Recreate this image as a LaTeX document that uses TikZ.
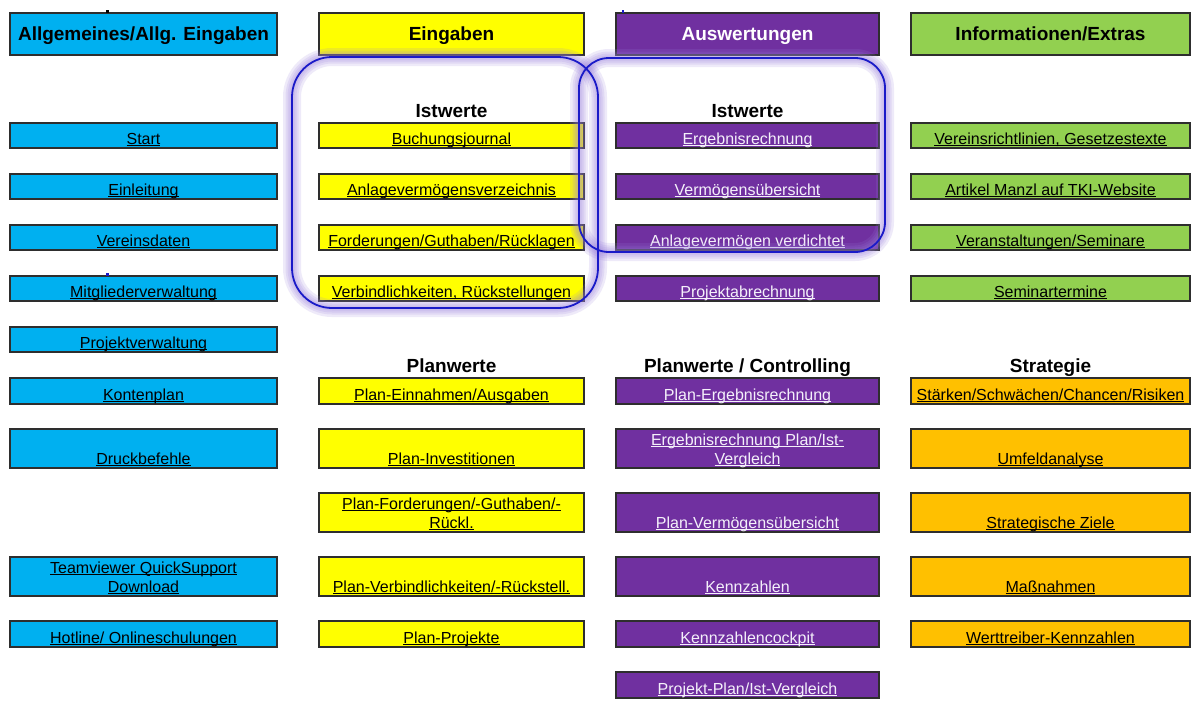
\documentclass[tikz,border=0pt]{standalone}
\usepackage{fontspec}
\setmainfont{Liberation Sans}
\definecolor{cblue}{HTML}{00B0F0}
\definecolor{cyel}{HTML}{FFFF00}
\definecolor{cpur}{HTML}{7030A0}
\definecolor{cgrn}{HTML}{92D050}
\definecolor{corg}{HTML}{FFC000}
\definecolor{ringblue}{HTML}{1A1AC8}
\definecolor{glow}{HTML}{9A80DC}
\definecolor{lavwhite}{HTML}{F4F0FA}
\newcommand{\ulk}[1]{\setbox0\hbox{#1}\rlap{\rule[-2.4pt]{\wd0}{1.1pt}}\box0}
\tikzset{
  cellbox/.style={draw=black!82, line width=1.3pt, inner sep=0pt, outer sep=0pt, anchor=north west},
  txt/.style={anchor=base, inner sep=0pt, outer sep=0pt, font=\fontsize{16}{19}\selectfont},
  hd/.style={anchor=base, inner sep=0pt, outer sep=0pt, font=\bfseries\fontsize{19}{22}\selectfont},
  glowline/.style={line width=#1, draw=glow, opacity=0.16},
  ring/.style={line width=1.8pt, draw=ringblue},
}
% name, x1, y1, x2, y2, fill, textcolor, text
\newcommand\cell[8]{%
  \node[cellbox, fill=#6, minimum width=#4pt-#2pt, minimum height=#5pt-#3pt] (#1) at (#2,#3) {};
  \node[txt, text=#7] (#1t) at ([yshift=4pt]#1.south) {\ulk{#8}};}
% two-line cell
\newcommand\cellii[9]{%
  \node[cellbox, fill=#6, minimum width=#4pt-#2pt, minimum height=#5pt-#3pt] (#1) at (#2,#3) {};
  \node[txt, text=#7] (#1a) at ([yshift=23pt]#1.south) {\ulk{#8}};
  \node[txt, text=#7] (#1b) at ([yshift=4pt]#1.south) {\ulk{#9}};}
% header: name, x1, x2, fill, textcolor, text
\newcommand\hcell[6]{%
  \node[cellbox, fill=#4, minimum width=#3pt-#2pt, minimum height=42pt] (#1) at (#2,13) {};
  \node[hd, text=#5] (#1t) at ([yshift=-6pt]#1.center) {#6};}
\begin{document}
\begin{tikzpicture}[x=1pt,y=-1pt]
\useasboundingbox (0,0) rectangle (1196,704);
\fill[white] (0,0) rectangle (1196,704);

% headers
\hcell{h1}{10}{277}{cblue}{black}{Allgemeines/Allg. Eingaben}
\hcell{h2}{319}{584}{cyel}{black}{Eingaben}
\hcell{h3}{616}{879}{cpur}{white}{Auswertungen}
\hcell{h4}{911}{1190}{cgrn}{black}{Informationen/Extras}

% column 1
\cell{a1}{10}{123}{277}{148}{cblue}{black}{Start}
\cell{a2}{10}{174}{277}{199}{cblue}{black}{Einleitung}
\cell{a3}{10}{225}{277}{250}{cblue}{black}{Vereinsdaten}
\cell{a4}{10}{276}{277}{301}{cblue}{black}{Mitgliederverwaltung}
\cell{a5}{10}{327}{277}{352}{cblue}{black}{Projektverwaltung}
\cell{a6}{10}{378}{277}{404}{cblue}{black}{Kontenplan}
\cell{a7}{10}{429}{277}{468}{cblue}{black}{Druckbefehle}
\cellii{a9}{10}{557}{277}{596}{cblue}{black}{Teamviewer QuickSupport}{Download}
\cell{a10}{10}{621}{277}{647}{cblue}{black}{Hotline/ Onlineschulungen}

% column 2
\cell{b1}{319}{123}{584}{148}{cyel}{black}{Buchungsjournal}
\cell{b2}{319}{174}{584}{199}{cyel}{black}{Anlagevermögensverzeichnis}
\cell{b3}{319}{225}{584}{250}{cyel}{black}{Forderungen/Guthaben/Rücklagen}
\cell{b4}{319}{276}{584}{301}{cyel}{black}{Verbindlichkeiten, Rückstellungen}
\cell{b6}{319}{378}{584}{404}{cyel}{black}{Plan-Einnahmen/Ausgaben}
\cell{b7}{319}{429}{584}{468}{cyel}{black}{Plan-Investitionen}
\cellii{b8}{319}{493}{584}{532}{cyel}{black}{Plan-Forderungen/-Guthaben/-}{Rückl.}
\cell{b9}{319}{557}{584}{596}{cyel}{black}{Plan-Verbindlichkeiten/-Rückstell.}
\cell{b10}{319}{621}{584}{647}{cyel}{black}{Plan-Projekte}

% column 3
\cell{c1}{616}{123}{879}{148}{cpur}{lavwhite}{Ergebnisrechnung}
\cell{c2}{616}{174}{879}{199}{cpur}{lavwhite}{Vermögensübersicht}
\cell{c3}{616}{225}{879}{250}{cpur}{lavwhite}{Anlagevermögen verdichtet}
\cell{c4}{616}{276}{879}{301}{cpur}{lavwhite}{Projektabrechnung}
\cell{c6}{616}{378}{879}{404}{cpur}{lavwhite}{Plan-Ergebnisrechnung}
\cellii{c7}{616}{429}{879}{468}{cpur}{lavwhite}{Ergebnisrechnung Plan/Ist-}{Vergleich}
\cell{c8}{616}{493}{879}{532}{cpur}{lavwhite}{Plan-Vermögensübersicht}
\cell{c9}{616}{557}{879}{596}{cpur}{lavwhite}{Kennzahlen}
\cell{c10}{616}{621}{879}{647}{cpur}{lavwhite}{Kennzahlencockpit}
\cell{c11}{616}{672}{879}{698}{cpur}{lavwhite}{Projekt-Plan/Ist-Vergleich}

% column 4
\cell{d1}{911}{123}{1190}{148}{cgrn}{black}{Vereinsrichtlinien, Gesetzestexte}
\cell{d2}{911}{174}{1190}{199}{cgrn}{black}{Artikel Manzl auf TKI-Website}
\cell{d3}{911}{225}{1190}{250}{cgrn}{black}{Veranstaltungen/Seminare}
\cell{d4}{911}{276}{1190}{301}{cgrn}{black}{Seminartermine}
\cell{d6}{911}{378}{1190}{404}{corg}{black}{Stärken/Schwächen/Chancen/Risiken}
\cell{d7}{911}{429}{1190}{468}{corg}{black}{Umfeldanalyse}
\cell{d8}{911}{493}{1190}{532}{corg}{black}{Strategische Ziele}
\cell{d9}{911}{557}{1190}{596}{corg}{black}{Maßnahmen}
\cell{d10}{911}{621}{1190}{647}{corg}{black}{Werttreiber-Kennzahlen}

% section labels
\node[hd] (lb1) at ([yshift=6pt]b1.north) {Istwerte};
\node[hd] (lc1) at ([yshift=6pt]c1.north) {Istwerte};
\node[hd] (lb6) at ([yshift=6pt]b6.north) {Planwerte};
\node[hd] (lc6) at ([yshift=6pt]c6.north) {Planwerte / Controlling};
\node[hd] (ld6) at ([yshift=6pt]d6.north) {Strategie};

% highlight rings with glow
\foreach \w in {18pt,13pt,9pt,5pt}{
  \draw[glowline=\w, rounded corners=40pt] (292,57) rectangle (598,308);
  \draw[glowline=\w, rounded corners=30pt] (579,58) rectangle (885,252);
}
\draw[ring, rounded corners=40pt] (292,57) rectangle (598,308);
\draw[ring, rounded corners=30pt] (579,58) rectangle (885,252);

% small stray marks
\fill[black] (106,10) rectangle (109,13);
\fill[ringblue] (106,273) rectangle (109,276);
\fill[ringblue] (622,10) rectangle (624,13);
\end{tikzpicture}
\end{document}
